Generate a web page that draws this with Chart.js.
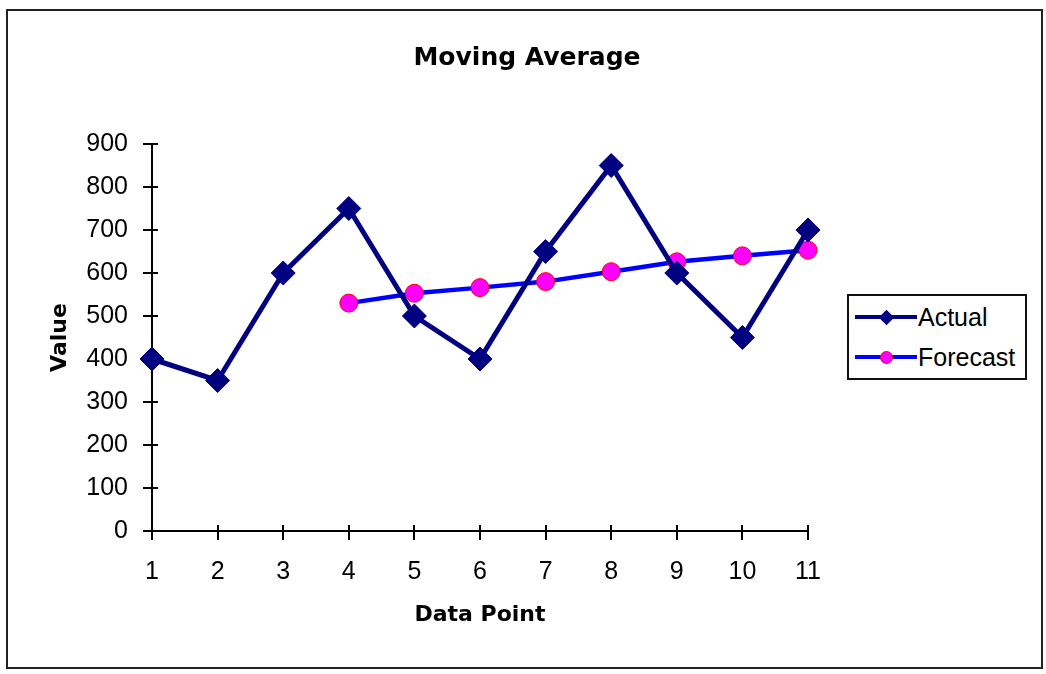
<!DOCTYPE html>
<html>
<head>
<meta charset="utf-8">
<title>Moving Average</title>
<script src="https://cdn.jsdelivr.net/npm/chart.js@4.4.1/dist/chart.umd.min.js"></script>
<style>
  html, body { margin: 0; padding: 0; background: #fff; }
  #wrap { position: relative; width: 1046px; height: 674px; }
  #frame {
    position: absolute; left: 6px; top: 9px; width: 1037px; height: 660px;
    box-sizing: border-box; border: 2px solid #222;
  }
  #chart { position: absolute; left: 0; top: 0; }
  #legend {
    position: absolute; left: 847px; top: 294px; width: 176px; height: 81px;
    padding-top: 1px; border: 2px solid #111; background: #fff;
    font-family: "Liberation Sans", Arial, sans-serif; font-size: 25px; color: #000;
  }
  .row { display: flex; align-items: center; height: 40px; padding-left: 6px; }
  .sym { position: relative; width: 62px; height: 40px; margin-right: 1px; }
  .sym .line { position: absolute; left: 0; right: 0; top: 18px; height: 4px; }
  .sym .mark { position: absolute; left: 50%; top: 50%; }
</style>
</head>
<body>
<div id="wrap">
  <div id="frame"></div>
  <canvas id="chart" width="1046" height="674"></canvas>
  <div id="legend"></div>
</div>
<script>
// =======================
// DATA
// =======================
const xLabels = ["1", "2", "3", "4", "5", "6", "7", "8", "9", "10", "11"];
const actualValues = [400, 350, 600, 750, 500, 400, 650, 850, 600, 450, 700];
const forecastValues = [null, null, null, 530, 553, 566, 580, 603, 626, 640, 653];
const yMin = 0;
const yMax = 900;
const yStep = 100;

Chart.defaults.font.family = '"Liberation Sans", Arial, sans-serif';
Chart.defaults.color = "#000";

const titleFont = { family: '"DejaVu Sans", Verdana, sans-serif', weight: "bold", size: 22 };

// tick marks in Excel cross the axis, chart.js only draws the outer half
const crossTicks = {
  id: "crossTicks",
  beforeDatasetsDraw(chart) {
    const { ctx, scales: { x, y } } = chart;
    ctx.save();
    ctx.strokeStyle = "#000";
    ctx.lineWidth = 2;
    ctx.beginPath();
    y.ticks.forEach((t, i) => {
      const py = Math.round(y.getPixelForTick(i));
      ctx.moveTo(x.left, py);
      ctx.lineTo(x.left + 6, py);
    });
    x.ticks.forEach((t, i) => {
      const px = Math.round(x.getPixelForTick(i));
      ctx.moveTo(px, y.bottom);
      ctx.lineTo(px, y.bottom - 6);
    });
    ctx.stroke();
    ctx.restore();
  }
};

const chart = new Chart(document.getElementById("chart"), {
  type: "line",
  data: {
    labels: xLabels,
    datasets: [
      {
        label: "Actual",
        data: actualValues,
        yAxisID: "y",
        borderColor: "#000080",
        backgroundColor: "#000080",
        borderWidth: 5,
        pointStyle: "rectRot",
        pointRadius: 12,
        pointBorderWidth: 1,
        pointBackgroundColor: "#000080",
        pointBorderColor: "#000080",
        tension: 0,
        clip: false
      },
      {
        label: "Forecast",
        data: forecastValues,
        yAxisID: "y",
        borderColor: "#0000FF",
        backgroundColor: "#0000FF",
        borderWidth: 4.5,
        pointStyle: "circle",
        pointRadius: 9,
        pointBorderWidth: 1,
        pointBackgroundColor: "#FF00FF",
        pointBorderColor: "#FF0000",
        tension: 0,
        spanGaps: false,
        clip: false
      }
    ]
  },
  options: {
    responsive: false,
    animation: false,
    devicePixelRatio: 1,
    layout: { padding: { left: 8, right: 0, top: 0, bottom: 0 } },
    plugins: {
      legend: { display: false },
      tooltip: { enabled: false },
      title: {
        display: true,
        text: "Moving Average",
        font: { family: titleFont.family, weight: "bold", size: 25 },
        color: "#000",
        padding: { top: 43, bottom: 71 }
      }
    },
    scales: {
      x: {
        type: "category",
        offset: false,
        grid: { drawOnChartArea: false, color: "#000", lineWidth: 2, tickLength: 9 },
        border: { color: "#000", width: 2 },
        ticks: { font: { size: 25 }, padding: 17, maxRotation: 0, autoSkip: false },
        title: { display: true, text: "Data Point", font: titleFont, color: "#000", padding: { top: 0, bottom: 46 } },
        afterFit(scale) { scale.height = 143; }
      },
      y: {
        position: "left",
        min: yMin,
        max: yMax,
        grid: { drawOnChartArea: false, color: "#000", lineWidth: 2, tickLength: 9 },
        border: { color: "#000", width: 2 },
        ticks: { stepSize: yStep, font: { size: 25 }, padding: 15 },
        title: { display: true, text: "Value", font: titleFont, color: "#000", padding: { top: 39, bottom: 0 } },
        afterFit(scale) { scale.width = 144; }
      },
      // empty box on the right, keeps room for the legend
      side: {
        position: "right",
        grid: { display: false },
        border: { display: false },
        ticks: { display: false },
        afterFit(scale) { scale.width = 238; }
      }
    }
  },
  plugins: [crossTicks]
});

// =======================
// LEGEND (html, built from datasets)
// =======================
const legendEl = document.getElementById("legend");
chart.data.datasets.forEach(ds => {
  const row = document.createElement("div");
  row.className = "row";
  const sym = document.createElement("div");
  sym.className = "sym";
  const line = document.createElement("div");
  line.className = "line";
  line.style.background = ds.borderColor;
  const mark = document.createElement("div");
  mark.className = "mark";
  if (ds.pointStyle === "rectRot") {
    mark.style.width = "11px";
    mark.style.height = "11px";
    mark.style.margin = "-5.5px 0 0 -5.5px";
    mark.style.background = ds.pointBackgroundColor;
    mark.style.transform = "rotate(45deg)";
  } else {
    mark.style.width = "11px";
    mark.style.height = "11px";
    mark.style.margin = "-6.5px 0 0 -6.5px";
    mark.style.borderRadius = "50%";
    mark.style.background = ds.pointBackgroundColor;
    mark.style.border = "1px solid " + ds.pointBorderColor;
  }
  sym.appendChild(line);
  sym.appendChild(mark);
  const txt = document.createElement("span");
  txt.textContent = ds.label;
  row.appendChild(sym);
  row.appendChild(txt);
  legendEl.appendChild(row);
});
</script>
</body>
</html>
